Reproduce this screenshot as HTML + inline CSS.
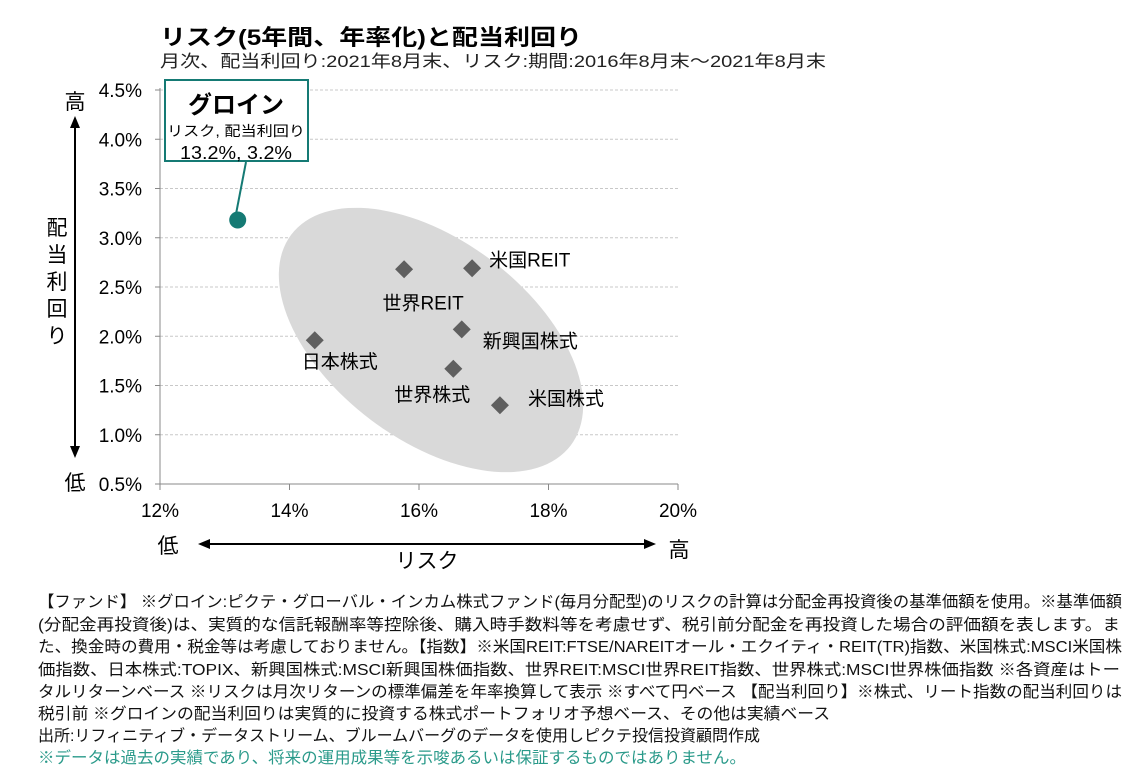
<!DOCTYPE html>
<html><head><meta charset="utf-8"><style>
body{margin:0;background:#fff;}
svg{display:block;font-family:"Liberation Sans","Noto Sans CJK JP",sans-serif;}
</style></head><body>
<svg id="chart" width="1138" height="774" viewBox="0 0 1138 774">
<text x="160" y="45" font-size="22" font-weight="bold" textLength="422" lengthAdjust="spacingAndGlyphs">リスク(5年間、年率化)と配当利回り</text>
<text x="160" y="67" font-size="17" textLength="666" lengthAdjust="spacingAndGlyphs" fill="#222">月次、配当利回り:2021年8月末、リスク:期間:2016年8月末～2021年8月末</text>
<g id="grid"></g>
<ellipse cx="431" cy="340" rx="175" ry="100" transform="rotate(37 431 340)" fill="#d9d9d9"/>
<g id="axes"></g>
<g id="marks"></g>
<g>
<line x1="75" y1="124" x2="75" y2="450" stroke="#000" stroke-width="2"/>
<polygon points="75,116 70,128 80,128" fill="#000"/>
<polygon points="75,458 70,446 80,446" fill="#000"/>
<text x="75" y="109" font-size="21" text-anchor="middle">高</text>
<text x="75" y="490" font-size="21" text-anchor="middle">低</text>
<text font-size="21" text-anchor="middle"><tspan x="57" y="235">配</tspan><tspan x="57" y="262">当</tspan><tspan x="57" y="289">利</tspan><tspan x="57" y="316">回</tspan><tspan x="57" y="343">り</tspan></text>
</g>
<g>
<line x1="206" y1="544" x2="648" y2="544" stroke="#000" stroke-width="2"/>
<polygon points="198,544 210,539 210,549" fill="#000"/>
<polygon points="656,544 644,539 644,549" fill="#000"/>
<text x="168" y="553" font-size="21" text-anchor="middle">低</text>
<text x="679" y="557" font-size="21" text-anchor="middle">高</text>
<text x="427" y="568" font-size="21" text-anchor="middle">リスク</text>
</g>
<g>
<line x1="246" y1="162" x2="236" y2="214" stroke="#157a74" stroke-width="2"/>
<rect x="165" y="80" width="143" height="81" fill="#fff" stroke="#157a74" stroke-width="2"/>
<text x="236" y="113" font-size="24" font-weight="bold" text-anchor="middle">グロイン</text>
<text x="236" y="136" font-size="14" text-anchor="middle" textLength="138" lengthAdjust="spacingAndGlyphs">リスク, 配当利回り</text>
<text x="236" y="159" font-size="18" text-anchor="middle" textLength="112" lengthAdjust="spacingAndGlyphs">13.2%, 3.2%</text>
</g>
<g font-size="16" fill="#111">
<text x="38" y="607" textLength="1084" lengthAdjust="spacingAndGlyphs">【ファンド】 ※グロイン:ピクテ・グローバル・インカム株式ファンド(毎月分配型)のリスクの計算は分配金再投資後の基準価額を使用。※基準価額</text>
<text x="38" y="630" textLength="1082" lengthAdjust="spacingAndGlyphs">(分配金再投資後)は、実質的な信託報酬率等控除後、購入時手数料等を考慮せず、税引前分配金を再投資した場合の評価額を表します。ま</text>
<text x="38" y="652" textLength="1084" lengthAdjust="spacingAndGlyphs">た、換金時の費用・税金等は考慮しておりません。【指数】※米国REIT:FTSE/NAREITオール・エクイティ・REIT(TR)指数、米国株式:MSCI米国株</text>
<text x="38" y="675" textLength="1082" lengthAdjust="spacingAndGlyphs">価指数、日本株式:TOPIX、新興国株式:MSCI新興国株価指数、世界REIT:MSCI世界REIT指数、世界株式:MSCI世界株価指数 ※各資産はトー</text>
<text x="38" y="697" textLength="1084" lengthAdjust="spacingAndGlyphs">タルリターンベース ※リスクは月次リターンの標準偏差を年率換算して表示 ※すべて円ベース 【配当利回り】※株式、リート指数の配当利回りは</text>
<text x="38" y="719" textLength="792" lengthAdjust="spacingAndGlyphs">税引前 ※グロインの配当利回りは実質的に投資する株式ポートフォリオ予想ベース、その他は実績ベース</text>
<text x="38" y="741" textLength="722" lengthAdjust="spacingAndGlyphs">出所:リフィニティブ・データストリーム、ブルームバーグのデータを使用しピクテ投信投資顧問作成</text>
<text x="38" y="763" textLength="708" lengthAdjust="spacingAndGlyphs" fill="#2a9a8a">※データは過去の実績であり、将来の運用成果等を示唆あるいは保証するものではありません。</text>
</g>
</svg>
<script>
const names = ["米国REIT","世界REIT","新興国株式","日本株式","世界株式","米国株式"];
const risks = [16.82,15.77,16.66,14.39,16.53,17.25];
const yields = [2.69,2.68,2.07,1.96,1.67,1.30];
const groinRisk = [13.2];
const groinYield = [3.18];
const xTicks = [12,14,16,18,20];
const yTicks = [0.5,1.0,1.5,2.0,2.5,3.0,3.5,4.0,4.5];
const labelOffsets = [[17,-2,"start"],[19,40,"middle"],[21,18,"start"],[25,28,"middle"],[-21,32,"middle"],[28,0,"start"]];
const NS="http://www.w3.org/2000/svg";
const x=v=>160+(v-12)*(518/8);
const y=v=>484-(v-0.5)*(394/4);
function mk(tag,attrs,parent){const e=document.createElementNS(NS,tag);for(const k in attrs)e.setAttribute(k,attrs[k]);parent.appendChild(e);return e;}
const grid=document.getElementById('grid'),axes=document.getElementById('axes'),marks=document.getElementById('marks');
yTicks.forEach(t=>{
  if(t>0.5){const l=mk('line',{x1:160,x2:678,y1:y(t),y2:y(t),stroke:'#c8c8c8','stroke-dasharray':'3,2'},grid);
  
  }
  mk('line',{x1:155,x2:160,y1:y(t),y2:y(t),stroke:'#888'},axes);
  const tx=mk('text',{x:142,y:y(t)+7,'font-size':19,'text-anchor':'end'},axes);
  tx.textContent=t.toFixed(1)+'%';
  
  
});
mk('line',{x1:160,x2:160,y1:88,y2:484,stroke:'#888'},axes);
mk('line',{x1:160,x2:678,y1:484,y2:484,stroke:'#888'},axes);
xTicks.forEach(t=>{
  mk('line',{x1:x(t),x2:x(t),y1:484,y2:490,stroke:'#888'},axes);
  const tx=mk('text',{x:x(t),y:517,'font-size':19,'text-anchor':'middle'},axes);
  tx.textContent=t+'%';
  
  
});
names.forEach((n,i)=>{
  const cx=x(risks[i]),cy=y(yields[i]);
  const d=mk('polygon',{points:`${cx},${cy-9} ${cx+9},${cy} ${cx},${cy+9} ${cx-9},${cy}`,fill:'#5f5f5f'},marks);
  
  
  const o=labelOffsets[i];
  const t=mk('text',{x:cx+o[0],y:cy+o[1],'font-size':19,'text-anchor':o[2]},marks);
  t.textContent=n;
  
  
});
const g=mk('circle',{cx:x(groinRisk[0]),cy:y(groinYield[0]),r:8.5,fill:'#157a74'},marks);


</script>
</body></html>
